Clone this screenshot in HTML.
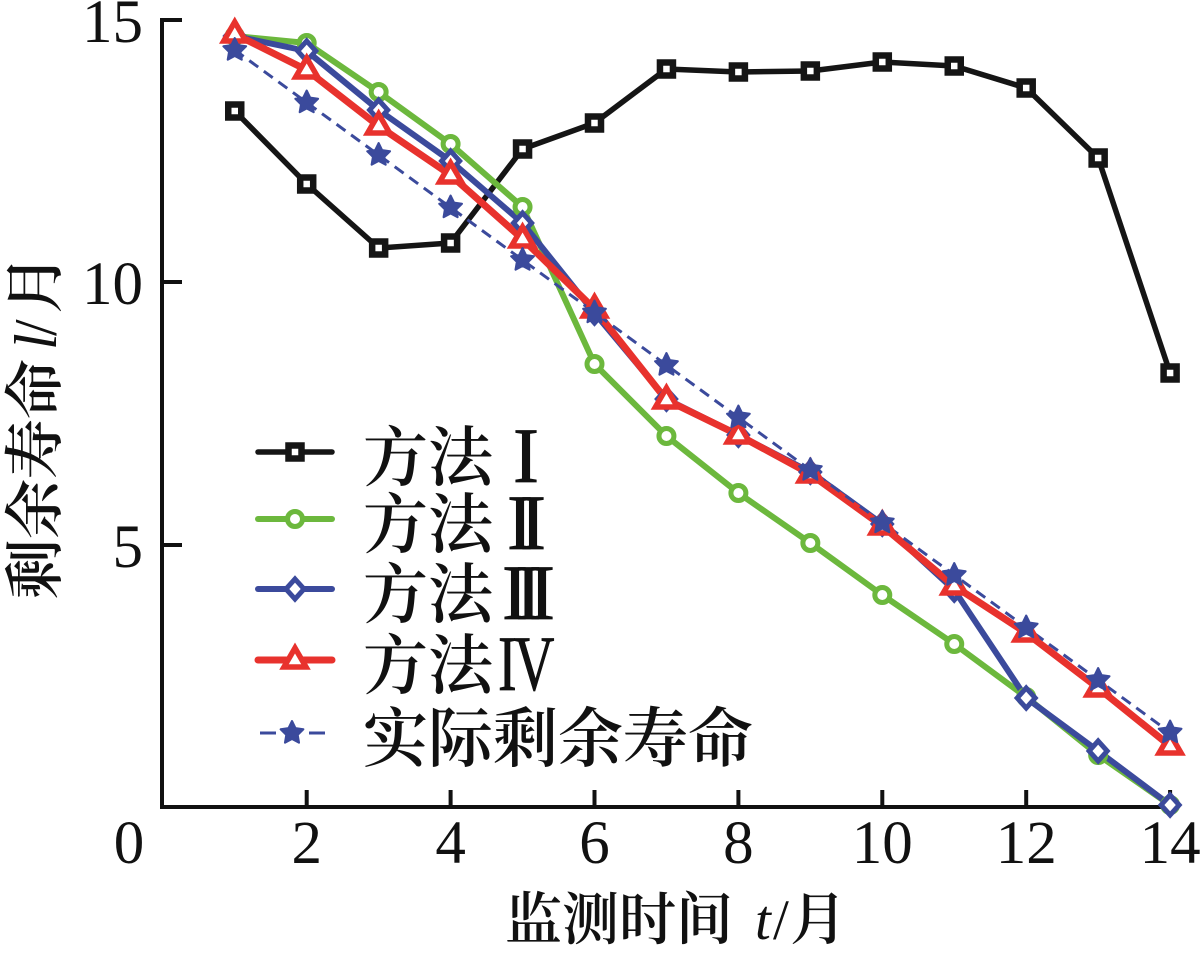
<!DOCTYPE html>
<html>
<head>
<meta charset="utf-8">
<style>
html,body{margin:0;padding:0;background:#fff;}
svg{display:block;}
.num{font-family:"Liberation Serif",serif;font-size:61px;fill:#111;}
.cjk{font-family:"Liberation Serif","Noto Serif CJK SC",serif;fill:#111;font-weight:600;}
</style>
</head>
<body>
<svg width="1200" height="958" viewBox="0 0 1200 958" xmlns="http://www.w3.org/2000/svg">
<defs>
  <rect id="sq" x="-6.5" y="-6.5" width="13" height="13" fill="#fff" stroke="#151515" stroke-width="6.5"/>
  <circle id="ci" r="7.5" fill="#fff" stroke="#6cb83d" stroke-width="5"/>
  <path id="di" d="M0,-10 L9,0 L0,10 L-9,0 Z" fill="#fff" stroke="#3b4a9c" stroke-width="5"/>
  <path id="tr" d="M0,-12 L11,7 L-11,7 Z" fill="#fff" stroke="#e8322d" stroke-width="5.5" stroke-linejoin="miter"/>
  <path id="st" d="M0,-12 L3.53,-4.85 L11.41,-3.71 L5.71,1.85 L7.05,9.71 L0,6 L-7.05,9.71 L-5.71,1.85 L-11.41,-3.71 L-3.53,-4.85 Z" fill="#3b4a9c" stroke="#3b4a9c" stroke-width="2" stroke-linejoin="round"/>
</defs>

<!-- axes -->
<path d="M162,18 L162,807 L1172,807" fill="none" stroke="#111" stroke-width="4"/>
<path d="M162,20 H182 M162,282 H182 M162,545 H182" stroke="#111" stroke-width="4"/>
<path d="M306.7,807 V790 M450.6,807 V790 M594.5,807 V790 M738.4,807 V790 M882.3,807 V790 M1026.2,807 V790 M1170.1,807 V790" stroke="#111" stroke-width="4"/>

<!-- tick labels -->
<text class="num" x="143" y="42" text-anchor="end">15</text>
<text class="num" x="143" y="304" text-anchor="end">10</text>
<text class="num" x="143" y="567" text-anchor="end">5</text>
<text class="num" x="129" y="863" text-anchor="middle">0</text>
<text class="num" x="306.7" y="863" text-anchor="middle">2</text>
<text class="num" x="450.6" y="863" text-anchor="middle">4</text>
<text class="num" x="594.5" y="863" text-anchor="middle">6</text>
<text class="num" x="738.4" y="863" text-anchor="middle">8</text>
<text class="num" x="882.3" y="863" text-anchor="middle">10</text>
<text class="num" x="1026.2" y="863" text-anchor="middle">12</text>
<text class="num" x="1170.1" y="863" text-anchor="middle">14</text>

<!-- axis titles -->
<text class="cjk" font-size="57" x="505" y="939">监测时间<tspan x="755" font-family="Liberation Serif" font-style="italic" font-weight="normal">t</tspan><tspan x="773" font-family="Liberation Serif" font-weight="normal">/</tspan><tspan x="790">月</tspan></text>
<text class="cjk" font-size="60" transform="translate(56,599) rotate(-90)">剩余寿命<tspan x="249" font-family="Liberation Serif" font-style="italic" font-weight="normal">l</tspan><tspan x="263" font-family="Liberation Serif" font-weight="normal">/</tspan><tspan x="285">月</tspan></text>

<!-- series -->
<polyline fill="none" stroke="#151515" stroke-width="5.5" stroke-linejoin="round" points="234.75,111 306.7,184 378.65,248 450.6,243 522.55,149 594.5,123 666.45,69 738.4,72 810.35,71 882.3,62 954.25,66 1026.2,88 1098.15,158 1170.1,373"/>
<polyline fill="none" stroke="#6cb83d" stroke-width="6" stroke-linejoin="round" points="234.75,36 306.7,43 378.65,92 450.6,144 522.55,207 594.5,364 666.45,436 738.4,493 810.35,543 882.3,595 954.25,644 1026.2,697 1098.15,755 1170.1,805"/>
<polyline fill="none" stroke="#3b4a9c" stroke-width="6" stroke-linejoin="round" points="234.75,36 306.7,51 378.65,110 450.6,161 522.55,223 594.5,313 666.45,399 738.4,435 810.35,472 882.3,524 954.25,590 1026.2,698 1098.15,751 1170.1,805"/>
<polyline fill="none" stroke="#e8322d" stroke-width="7" stroke-linejoin="round" points="234.75,34 306.7,70 378.65,126 450.6,175 522.55,239 594.5,309 666.45,400 738.4,435 810.35,474 882.3,526 954.25,586 1026.2,633 1098.15,688 1170.1,746"/>
<polyline fill="none" stroke="#3b4a9c" stroke-width="3" stroke-dasharray="11 7" points="234.75,50 306.7,102.5 378.65,155 450.6,207.5 522.55,260 594.5,312.5 666.45,365 738.4,417.5 810.35,470 882.3,522.5 954.25,575 1026.2,627.5 1098.15,680 1170.1,732.5"/>

<!-- markers black -->
<use href="#sq" x="234.75" y="111"/><use href="#sq" x="306.7" y="184"/><use href="#sq" x="378.65" y="248"/><use href="#sq" x="450.6" y="243"/><use href="#sq" x="522.55" y="149"/><use href="#sq" x="594.5" y="123"/><use href="#sq" x="666.45" y="69"/><use href="#sq" x="738.4" y="72"/><use href="#sq" x="810.35" y="71"/><use href="#sq" x="882.3" y="62"/><use href="#sq" x="954.25" y="66"/><use href="#sq" x="1026.2" y="88"/><use href="#sq" x="1098.15" y="158"/><use href="#sq" x="1170.1" y="373"/>
<!-- markers green -->
<use href="#ci" x="234.75" y="36"/><use href="#ci" x="306.7" y="43"/><use href="#ci" x="378.65" y="92"/><use href="#ci" x="450.6" y="144"/><use href="#ci" x="522.55" y="207"/><use href="#ci" x="594.5" y="364"/><use href="#ci" x="666.45" y="436"/><use href="#ci" x="738.4" y="493"/><use href="#ci" x="810.35" y="543"/><use href="#ci" x="882.3" y="595"/><use href="#ci" x="954.25" y="644"/><use href="#ci" x="1026.2" y="697"/><use href="#ci" x="1098.15" y="755"/><use href="#ci" x="1170.1" y="805"/>
<!-- markers blue -->
<use href="#di" x="234.75" y="36"/><use href="#di" x="306.7" y="51"/><use href="#di" x="378.65" y="110"/><use href="#di" x="450.6" y="161"/><use href="#di" x="522.55" y="223"/><use href="#di" x="594.5" y="313"/><use href="#di" x="666.45" y="399"/><use href="#di" x="738.4" y="435"/><use href="#di" x="810.35" y="472"/><use href="#di" x="882.3" y="524"/><use href="#di" x="954.25" y="590"/><use href="#di" x="1026.2" y="698"/><use href="#di" x="1098.15" y="751"/><use href="#di" x="1170.1" y="805"/>
<!-- markers red -->
<use href="#tr" x="234.75" y="34"/><use href="#tr" x="306.7" y="70"/><use href="#tr" x="378.65" y="126"/><use href="#tr" x="450.6" y="175"/><use href="#tr" x="522.55" y="239"/><use href="#tr" x="594.5" y="309"/><use href="#tr" x="666.45" y="400"/><use href="#tr" x="738.4" y="435"/><use href="#tr" x="810.35" y="474"/><use href="#tr" x="882.3" y="526"/><use href="#tr" x="954.25" y="586"/><use href="#tr" x="1026.2" y="633"/><use href="#tr" x="1098.15" y="688"/><use href="#tr" x="1170.1" y="746"/>
<!-- markers star -->
<use href="#st" x="234.75" y="50"/><use href="#st" x="306.7" y="102.5"/><use href="#st" x="378.65" y="155"/><use href="#st" x="450.6" y="207.5"/><use href="#st" x="522.55" y="260"/><use href="#st" x="594.5" y="312.5"/><use href="#st" x="666.45" y="365"/><use href="#st" x="738.4" y="417.5"/><use href="#st" x="810.35" y="470"/><use href="#st" x="882.3" y="522.5"/><use href="#st" x="954.25" y="575"/><use href="#st" x="1026.2" y="627.5"/><use href="#st" x="1098.15" y="680"/><use href="#st" x="1170.1" y="732.5"/>

<!-- legend -->
<line x1="258" y1="452" x2="332" y2="452" stroke="#151515" stroke-width="5.5" stroke-linecap="round"/>
<use href="#sq" x="295" y="452"/>
<line x1="258" y1="519" x2="332" y2="519" stroke="#6cb83d" stroke-width="6" stroke-linecap="round"/>
<use href="#ci" x="295" y="519"/>
<line x1="258" y1="589" x2="332" y2="589" stroke="#3b4a9c" stroke-width="6" stroke-linecap="round"/>
<use href="#di" x="295" y="589"/>
<line x1="258" y1="660" x2="332" y2="660" stroke="#e8322d" stroke-width="7" stroke-linecap="round"/>
<use href="#tr" x="295" y="660"/>
<path d="M260,733 H276 M309,733 H325" stroke="#3b4a9c" stroke-width="3"/>
<use href="#st" x="292" y="733"/>

<text class="cjk" font-size="65" x="363" y="480">方法</text>
<text class="cjk" font-size="65" x="363" y="547">方法</text>
<text class="cjk" font-size="65" x="363" y="617">方法</text>
<text class="cjk" font-size="65" x="363" y="688">方法</text>
<text class="cjk" font-size="65" x="363" y="761">实际剩余寿命</text>

<text font-family="Liberation Serif" font-size="78" fill="#111" stroke="#111" stroke-width="0.8" x="513" y="482">I</text>
<text font-family="Liberation Serif" font-size="78" fill="#111" stroke="#111" stroke-width="0.8" x="507" y="549" letter-spacing="-13">II</text>
<text font-family="Liberation Serif" font-size="78" fill="#111" stroke="#111" stroke-width="0.8" x="502" y="619" letter-spacing="-12.5">III</text>
<text font-family="Liberation Serif" font-size="78" fill="#111" stroke="#111" stroke-width="0.8" transform="translate(498,690) scale(0.72,1)" letter-spacing="-4">IV</text>
</svg>
</body>
</html>
